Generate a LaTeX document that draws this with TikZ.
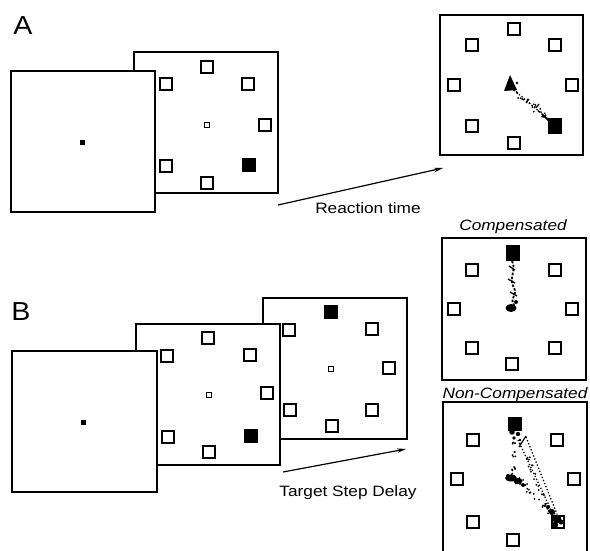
\documentclass[tikz,border=0pt]{standalone}
\usepackage{fontspec}
\setmainfont{Liberation Sans}
\usetikzlibrary{arrows.meta,calc}
\newcommand\scatterdots[4]{%
  \foreach \k in {1,...,#3}{%
    \pgfmathsetmacro\sdT{rnd}%
    \pgfmathsetmacro\sdX{rand*#4}%
    \pgfmathsetmacro\sdY{rand*#4}%
    \fill ($(#1)!\sdT!(#2)+(\sdX,\sdY)$) circle (1pt);
  }}
\begin{document}
\begin{tikzpicture}[x=1pt,y=-1pt,
  screen/.style={draw, fill=white, line width=1.2pt, inner sep=0pt,
                 minimum width=144pt, minimum height=141pt},
  tgt/.style={draw, line width=1.3pt, fill=white, inner sep=0pt, minimum size=12pt},
  tgton/.style={tgt, fill=black},
  fix/.style={draw, line width=1pt, inner sep=0pt, minimum size=5.5pt},
  fixdot/.style={fill=black, inner sep=0pt, minimum size=5pt},
  lbl/.style={font=\fontsize{15}{15}\selectfont, xscale=1.15, inner sep=0pt, anchor=base},
  big/.style={font=\fontsize{26}{26}\selectfont, xscale=1.1, inner sep=0pt, anchor=base},
  arr/.style={line width=1.2pt, -{Stealth[length=9pt,width=4.5pt]}},
  trail/.style={line width=1.3pt, dotted},
]
\useasboundingbox (0,0) rectangle (590,550);
\pgfmathsetseed{12}

% ================= Panel A =================
\node[big] (labA) at (23,34) {A};

% middle screen (behind)
\node[screen] (a2) at (206,122.5) {};
\coordinate (a2c) at (207,125);
\node[fix] (a2f) at (a2c) {};
\foreach \n/\dx/\dy in {t/0/-58, ul/-41/-41, ur/41/-41, r/58/0, ll/-41/41, b/0/58}
  \node[tgt] (a2\n) at ($(a2c)+(\dx,\dy)$) {};
\node[tgton] (a2lr) at ($(a2c)+(42,40)$) {};

% left screen (front)
\node[screen] (a1) at (83,141.5) {};
\node[fixdot] (a1f) at (82,142) {};

% result screen
\node[screen, minimum width=143pt, minimum height=140pt] (a3) at (511.5,85) {};
\coordinate (a3c) at (513,85);
\foreach \n/\dx/\dy in {t/1/-56, ul/-41/-40, ur/42/-40, l/-59/0, r/59/0, ll/-41/41, b/1/58}
  \node[tgt] (a3\n) at ($(a3c)+(\dx,\dy)$) {};
\node[tgton, minimum width=13pt, minimum height=14pt] (a3lr) at (555,126) {};
\fill (504,91) -- (510,75) -- (517,90) -- cycle;
\fill (517,83) circle (1.3pt);
\coordinate (a3s) at (514,90);
\coordinate (a3e) at (549,120);
\draw[trail] (a3s) -- (a3e);
\scatterdots{a3s}{a3e}{26}{2.8}
\draw[line width=1.2pt] (526,103) -- (529,99);
\draw[line width=1.2pt] (536,108) -- (539,104);
\draw[line width=1.5pt] (542,114) -- (549,121);

% arrow + label
\coordinate (aS) at (278,205);
\coordinate (aE) at (443,168);
\draw[arr] (aS) -- (aE);
\node[lbl] (rt) at (368,213) {Reaction time};

% ================= Panel B =================
\node[big] (labB) at (21,320) {B};

% back screen (stepped target)
\node[screen] (b3) at (335,368.5) {};
\coordinate (b3c) at (331,369);
\node[fix] (b3f) at (b3c) {};
\foreach \n/\dx/\dy in {ul/-42/-39, ur/41/-40, r/58/-1, ll/-41/41, lr/41/41, b/1/57}
  \node[tgt] (b3\n) at ($(b3c)+(\dx,\dy)$) {};
\node[tgton] (b3t) at ($(b3c)+(0,-57)$) {};

% middle screen
\node[screen] (b2) at (208,394.5) {};
\coordinate (b2c) at (209,395);
\node[fix] (b2f) at (b2c) {};
\foreach \n/\dx/\dy in {t/-1/-57, ul/-42/-39, ur/41/-40, r/58/-2, ll/-41/42, b/0/57}
  \node[tgt] (b2\n) at ($(b2c)+(\dx,\dy)$) {};
\node[tgton] (b2lr) at ($(b2c)+(42,41)$) {};

% front screen
\node[screen, minimum width=145pt] (b1) at (84.5,421.5) {};
\node[fixdot] (b1f) at (83,422) {};

% arrow + label
\coordinate (bS) at (283,472);
\coordinate (bE) at (406,449);
\draw[arr] (bS) -- (bE);
\node[lbl] (tsd) at (348,496) {Target Step Delay};

% ----- Compensated -----
\node[lbl, font=\fontsize{15}{15}\selectfont\itshape] (lc) at (513,230) {Compensated};
\node[screen, minimum height=142pt] (bc) at (514,309) {};
\coordinate (bcc) at (513,309);
\foreach \n/\dx/\dy in {ul/-41/-39, ur/42/-39, l/-59/0, r/59/0, ll/-41/39, lr/42/39, b/-1/55}
  \node[tgt] (bc\n) at ($(bcc)+(\dx,\dy)$) {};
\node[tgton, minimum height=14pt] (bct) at (513,253) {};
\draw[line width=1.8pt, dash pattern=on 2.5pt off 1.5pt]
  (512,261) .. controls (517,270) and (508,278) .. (514,288)
            .. controls (518,295) and (509,298) .. (514,305);
\draw[line width=1.3pt] (509,266) -- (515,270);
\draw[line width=1.3pt] (508,279) -- (515,283);
\draw[line width=1.3pt] (510,292) -- (517,296);
\fill (511,308) ellipse (5.5pt and 4pt);
\fill (516,302) circle (2pt);

% ----- Non-Compensated -----
\node[lbl, font=\fontsize{15}{15}\selectfont\itshape] (lnc) at (515,398) {Non-Compensated};
\node[screen, minimum height=158pt] (bn) at (515,481) {};
\coordinate (bnc) at (515,481);
\foreach \n/\dx/\dy in {ul/-42/-41, ur/42/-41, l/-58/-2, r/59/-2, ll/-42/41, lr/43/41, b/-2/59}
  \node[tgt] (bn\n) at ($(bnc)+(\dx,\dy)$) {};
\node[tgton, minimum width=13pt] (bnt) at (515,424) {};
% splash under start
\fill (512,432) circle (2.8pt);
\fill (518,434) circle (2.2pt);
\fill (514,438) circle (1.8pt);
\fill (520,440) circle (1.4pt);
% the "^" path
\draw[line width=1.2pt] (519,447) -- (526,436);
\coordinate (n1s) at (526,437);
\coordinate (n1e) at (557,514);
\draw[trail] (n1s) -- (n1e);
% central straight dotted path
\coordinate (n2s) at (518,440);
\coordinate (n2e) at (553,514);
\draw[trail] (n2s) -- (n2e);
% path via centre blob
\coordinate (n3s) at (515,440);
\coordinate (n3m) at (514,476);
\coordinate (n3e) at (552,513);
\scatterdots{n3s}{n3m}{16}{2.8}
\scatterdots{n3m}{n3e}{30}{3.2}
\scatterdots{n2s}{n2e}{20}{3}
% centre blob
\fill (511,478) ellipse (6pt and 3.5pt);
\fill (518,481) ellipse (4.5pt and 3pt);
\fill (523,485) circle (2pt);
\fill (508,476) circle (2pt);
% arrival blob
\fill (552,512) circle (3pt);
\fill (557,519) circle (4.5pt);
\fill (555,525) circle (3.2pt);
\fill (561,522) circle (2.5pt);
\fill (548,507) circle (2pt);
\end{tikzpicture}
\end{document}
